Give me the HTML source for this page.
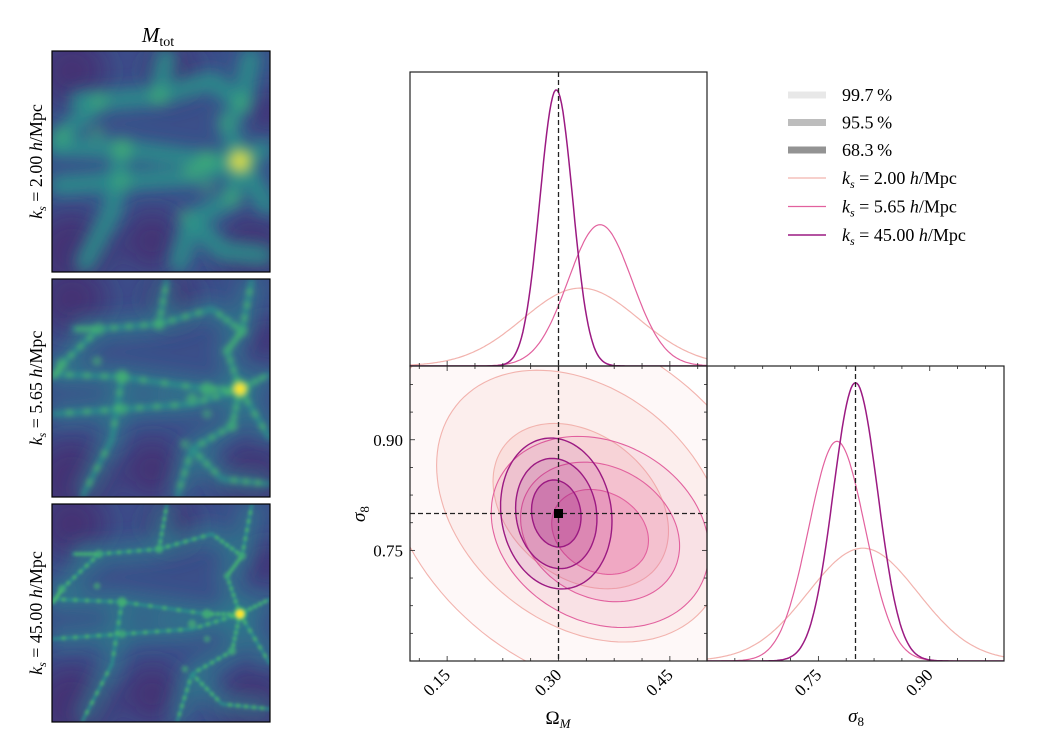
<!DOCTYPE html>
<html><head><meta charset="utf-8">
<style>
html,body{margin:0;padding:0;background:#fff;}
body{width:1064px;height:736px;overflow:hidden;position:relative;}
svg text{font-family:"Liberation Serif","DejaVu Serif",serif;fill:#000;}
</style></head>
<body>
<svg id="fig" width="1064" height="736" viewBox="0 0 1064 736" xmlns="http://www.w3.org/2000/svg">
<defs>
  <filter id="b1" x="-20%" y="-20%" width="140%" height="140%"><feGaussianBlur stdDeviation="7"/></filter>
  <filter id="b2" x="-20%" y="-20%" width="140%" height="140%"><feGaussianBlur stdDeviation="3"/></filter>
  <filter id="b3" x="-20%" y="-20%" width="140%" height="140%"><feGaussianBlur stdDeviation="1.6"/></filter>
  <filter id="halo" x="-20%" y="-20%" width="140%" height="140%"><feGaussianBlur stdDeviation="9"/></filter>
  <filter id="bg" x="-20%" y="-20%" width="140%" height="140%"><feGaussianBlur stdDeviation="14"/></filter>
  <clipPath id="c0"><rect x="52" y="51" width="218" height="221"/></clipPath>
  <clipPath id="c1"><rect x="52" y="279" width="218" height="218"/></clipPath>
  <clipPath id="c2"><rect x="52" y="504" width="218" height="218"/></clipPath>
  <clipPath id="cp2d"><rect x="410" y="366" width="297" height="295"/></clipPath>
  <clipPath id="cpT"><rect x="410" y="72" width="297" height="294"/></clipPath>
  <clipPath id="cpR"><rect x="707" y="366" width="297" height="295"/></clipPath>
</defs>
<text x="158" y="42" font-size="21" text-anchor="middle" font-style="italic">M<tspan font-size="14" font-style="normal" dy="4">tot</tspan></text>
<g id="maps"></g>
<g id="corner"></g>
<g id="legend"></g>
</svg>
<script>
// ---- chart data ----
const models = ["ks=2.00", "ks=5.65", "ks=45.00"];
const muOmega = [0.33, 0.356, 0.297];
const sigOmega = [0.078, 0.043, 0.022];
const muSigma8 = [0.81, 0.775, 0.800];
const sigSigma8 = [0.074, 0.038, 0.030];
const rhoCorr = [-0.3, -0.2, -0.1];
const truthOmega = 0.30;
const truthSigma8 = 0.80;
const levelRadii = [3.41, 2.49, 1.515]; // 99.7, 95.5, 68.3 %
const omegaTicks = [0.15, 0.30, 0.45];
const sigma8Ticks = [0.75, 0.90];
const legendLabels = ["99.7\u2009%", "95.5\u2009%", "68.3\u2009%"];
const modelLabels = ["2.00", "5.65", "45.00"];

const colors = ["#f2b3ae", "#e2619e", "#9b1a82"];
const fillOp = [0.09, 0.15, 0.25];
const NS = "http://www.w3.org/2000/svg";
function mk(tag, attrs, parent){const e=document.createElementNS(NS,tag);for(const k in attrs)e.setAttribute(k,attrs[k]);parent.appendChild(e);return e;}

const xO = v => 410 + (v-0.1)/0.4*297;
const yS = v => 661 - (v-0.6)/0.4*295;
const xS = v => 707 + (v-0.6)/0.4*297;
const yT = d => 366 - d/19.3*294;
const yR = d => 661 - d/14.1*295;
const pdf = (x,m,s) => Math.exp(-0.5*((x-m)/s)**2)/(s*Math.sqrt(2*Math.PI));

const corner = document.getElementById('corner');

const g2 = mk('g',{'clip-path':'url(#cp2d)'},corner);


for(let m=0;m<3;m++){
  levelRadii.forEach((r,li)=>{
    let d='';
    for(let i=0;i<=120;i++){
      const t=i/120*2*Math.PI;
      const ox=muOmega[m]+sigOmega[m]*r*Math.cos(t);
      const oy=muSigma8[m]+sigSigma8[m]*r*(rhoCorr[m]*Math.cos(t)+Math.sqrt(1-rhoCorr[m]**2)*Math.sin(t));
      d+=(i?'L':'M')+xO(ox).toFixed(1)+','+yS(oy).toFixed(1);
    }
    const p=mk('path',{d:d+'Z',fill:colors[m],'fill-opacity':fillOp[li],stroke:colors[m],'stroke-width':m==2?1.4:1.1},g2);
    
    
  });
}
mk('line',{x1:xO(truthOmega),y1:366,x2:xO(truthOmega),y2:661,stroke:'#222','stroke-width':1.3,'stroke-dasharray':'5,3'},g2);
mk('line',{x1:410,y1:yS(truthSigma8),x2:707,y2:yS(truthSigma8),stroke:'#222','stroke-width':1.3,'stroke-dasharray':'5,3'},g2);
const tm=mk('rect',{x:xO(truthOmega)-4.5,y:yS(truthSigma8)-4.5,width:9,height:9,fill:'#000'},g2);



const gT = mk('g',{'clip-path':'url(#cpT)'},corner);


const gR = mk('g',{'clip-path':'url(#cpR)'},corner);


for(let m=0;m<3;m++){
  let d1='',d2='';
  for(let i=0;i<=200;i++){
    const v1=0.1+0.4*i/200, v2=0.6+0.4*i/200;
    d1+=(i?'L':'M')+xO(v1).toFixed(1)+','+yT(pdf(v1,muOmega[m],sigOmega[m])).toFixed(1);
    d2+=(i?'L':'M')+xS(v2).toFixed(1)+','+yR(pdf(v2,muSigma8[m],sigSigma8[m])).toFixed(1);
  }
  const a=mk('path',{d:d1,fill:'none',stroke:colors[m],'stroke-width':m==2?1.5:1.2},gT);
  
  
  const b=mk('path',{d:d2,fill:'none',stroke:colors[m],'stroke-width':m==2?1.5:1.2},gR);
  
  
}
mk('line',{x1:xO(truthOmega),y1:72,x2:xO(truthOmega),y2:366,stroke:'#222','stroke-width':1.3,'stroke-dasharray':'5,3'},gT);
mk('line',{x1:xS(truthSigma8),y1:366,x2:xS(truthSigma8),y2:661,stroke:'#222','stroke-width':1.3,'stroke-dasharray':'5,3'},gR);

function frame(x,y,w,h,name){const r=mk('rect',{x:x,y:y,width:w,height:h,fill:'none',stroke:'#222','stroke-width':1.2},corner);}
frame(410,72,297,294,'omega-marginal-frame');
frame(410,366,297,295,'contour-frame');
frame(707,366,297,295,'sigma8-marginal-frame');
function xticks(sc,y0,y1,both){
  for(let k=-8;k<=16;k++){const v=0.15+k*0.0375;const x=sc(v);
    const major=Math.abs((k%4))==0;const L=major?5:3;
    if(x<sc(0.1)+1||x>sc(0.1)+296)continue;
    mk('line',{x1:x,y1:y1,x2:x,y2:y1-L,stroke:'#222','stroke-width':0.8},corner);
    if(both)mk('line',{x1:x,y1:y0,x2:x,y2:y0+L,stroke:'#222','stroke-width':0.8},corner);}
}
xticks(xO,366,661,true); xticks(xO,72,366,false);
for(let k=-8;k<=16;k++){const v=0.75+k*0.0375;const x=xS(v);if(x<708||x>1003)continue;const L=(k%4==0)?5:3;
  mk('line',{x1:x,y1:661,x2:x,y2:661-L,stroke:'#222','stroke-width':0.8},corner);
  mk('line',{x1:x,y1:366,x2:x,y2:366+L,stroke:'#222','stroke-width':0.8},corner);}
for(let k=-8;k<=16;k++){const v=0.75+k*0.0375;const y=yS(v);if(y<367||y>660)continue;const L=(k%4==0)?5:3;
  mk('line',{x1:410,y1:y,x2:410+L,y2:y,stroke:'#222','stroke-width':0.8},corner);
  mk('line',{x1:707,y1:y,x2:707-L,y2:y,stroke:'#222','stroke-width':0.8},corner);}
omegaTicks.forEach(v=>{const t=mk('text',{x:xO(v)+4,y:676,'font-size':17,'text-anchor':'end',transform:`rotate(-45 ${xO(v)+4} 676)`},corner);t.textContent=v.toFixed(2);
  });
sigma8Ticks.forEach(v=>{const t=mk('text',{x:xS(v)+4,y:676,'font-size':17,'text-anchor':'end',transform:`rotate(-45 ${xS(v)+4} 676)`},corner);t.textContent=v.toFixed(2);
  
  const u=mk('text',{x:403,y:yS(v)+6,'font-size':17,'text-anchor':'end'},corner);u.textContent=v.toFixed(2);
  });
let t=mk('text',{x:558,y:724,'font-size':19,'text-anchor':'middle'},corner);t.innerHTML='Ω<tspan font-size="13" font-style="italic" dy="4">M</tspan>';

t=mk('text',{x:856,y:722,'font-size':19,'text-anchor':'middle','font-style':'italic'},corner);t.innerHTML='σ<tspan font-size="13" font-style="normal" dy="4">8</tspan>';

t=mk('text',{x:365,y:514,'font-size':19,'text-anchor':'middle','font-style':'italic',transform:'rotate(-90 365 514)'},corner);t.innerHTML='σ<tspan font-size="13" font-style="normal" dy="4">8</tspan>';


const lg=document.getElementById('legend');
const patchCol=['#e8e8e8','#bdbdbd','#939393'];
legendLabels.forEach((s,i)=>{const y=95+i*27.5;
  const r=mk('rect',{x:788,y:y-3.5,width:38,height:7,fill:patchCol[i]},lg);
  
  const tx=mk('text',{x:842,y:y+6,'font-size':18},lg);tx.textContent=s;
  });
modelLabels.forEach((s,i)=>{const y=178+i*28.5;
  const l=mk('line',{x1:788,y1:y,x2:826,y2:y,stroke:colors[i],'stroke-width':i==2?1.6:1.2},lg);
  
  const tx=mk('text',{x:842,y:y+6,'font-size':18},lg);
  tx.innerHTML='<tspan font-style="italic">k</tspan><tspan font-size="12" font-style="italic" dy="4">s</tspan><tspan dy="-4"> = '+s+' </tspan><tspan font-style="italic">h</tspan>/Mpc';
  });

// ---- density maps (illustrative) ----
const maps=document.getElementById('maps');
const tops=[51,279,504];const hs=[221,218,218];
const fils=[[[0,95],[70,98],[155,110],[188,110],[218,95]],[[188,110],[180,147],[140,170],[125,218]],[[188,110],[175,72],[190,52],[200,0]],
 [[20,50],[47,50],[107,45],[160,30],[190,52]],[[0,135],[70,130],[140,125],[188,110]],[[188,110],[218,160]],[[107,45],[115,0]],[[70,98],[60,160],[30,218]],[[140,170],[170,200],[218,205]],[[47,50],[10,85],[0,100]]];
const blobs=[[188,110,10,1],[155,110,7,0.7],[70,98,7,0.75],[107,45,6,0.7],[47,50,6,0.6],[10,85,6,0.6],[45,82,5,0.55],[190,52,6,0.6],[175,72,5,0.55],[140,120,6,0.6],[180,147,6,0.6],[133,165,5,0.5],[70,130,6,0.55],[155,135,5,0.5]];
const labels=["2.00","5.65","45.00"];
[0,1,2].forEach(i=>{
  const y0=tops[i];const g=mk('g',{'clip-path':`url(#c${i})`},maps);
  
  mk('rect',{x:52,y:y0,width:218,height:hs[i],fill:'#3b4f8a'},g);
  const dark=mk('g',{filter:'url(#bg)'},g);
  [[20,20,35],[200,200,35],[20,200,40],[120,20,25],[100,190,30],[215,60,20]].forEach(p=>mk('circle',{cx:52+p[0],cy:y0+p[1],r:p[2],fill:'#45266e','fill-opacity':0.75},dark));
  const hg=mk('g',{filter:'url(#halo)'},g);
  fils.forEach(f=>mk('polyline',{points:f.map(p=>(52+p[0])+','+(y0+p[1])).join(' '),fill:'none',stroke:'#2c7a8c','stroke-width':22,'stroke-linejoin':'round','stroke-opacity':0.7},hg));
  const fg=mk('g',{filter:`url(#b${i+1})`},g);
  const sw=[12,5,3][i];
  fils.forEach(f=>mk('polyline',{points:f.map(p=>(52+p[0])+','+(y0+p[1])).join(' '),fill:'none',stroke:'#2a948a','stroke-width':sw,'stroke-linejoin':'round','stroke-opacity':0.85},fg));
  if(i>0){fils.forEach(f=>{for(let s=0;s<f.length-1;s++){const n=i==1?4:6;for(let k=1;k<n;k++){const a=k/n;
    mk('circle',{cx:52+f[s][0]+(f[s+1][0]-f[s][0])*a,cy:y0+f[s][1]+(f[s+1][1]-f[s][1])*a,r:i==1?3:2,fill:'#4fc06a','fill-opacity':0.8},fg);}}});}
  const sc=[1,0.7,0.5][i];
  blobs.forEach(b=>{mk('circle',{cx:52+b[0],cy:y0+b[1],r:b[2]*sc*1.4,fill:'#47b86f','fill-opacity':b[3]},fg);
    if(b[3]>0.9){mk('circle',{cx:52+b[0],cy:y0+b[1],r:b[2]*sc*0.8,fill:'#fde725'},fg);}});
  const fr=mk('rect',{x:52,y:y0,width:218,height:hs[i],fill:'none',stroke:'#000','stroke-width':1.2},maps);
  
  const cy=y0+hs[i]/2;
  const lt=mk('text',{x:42,y:cy,'font-size':18,'text-anchor':'middle',transform:`rotate(-90 42 ${cy})`},maps);
  lt.innerHTML='<tspan font-style="italic">k</tspan><tspan font-size="12" font-style="italic" dy="4">s</tspan><tspan dy="-4"> = '+labels[i]+' </tspan><tspan font-style="italic">h</tspan>/Mpc';
  
});
</script>
</body></html>
